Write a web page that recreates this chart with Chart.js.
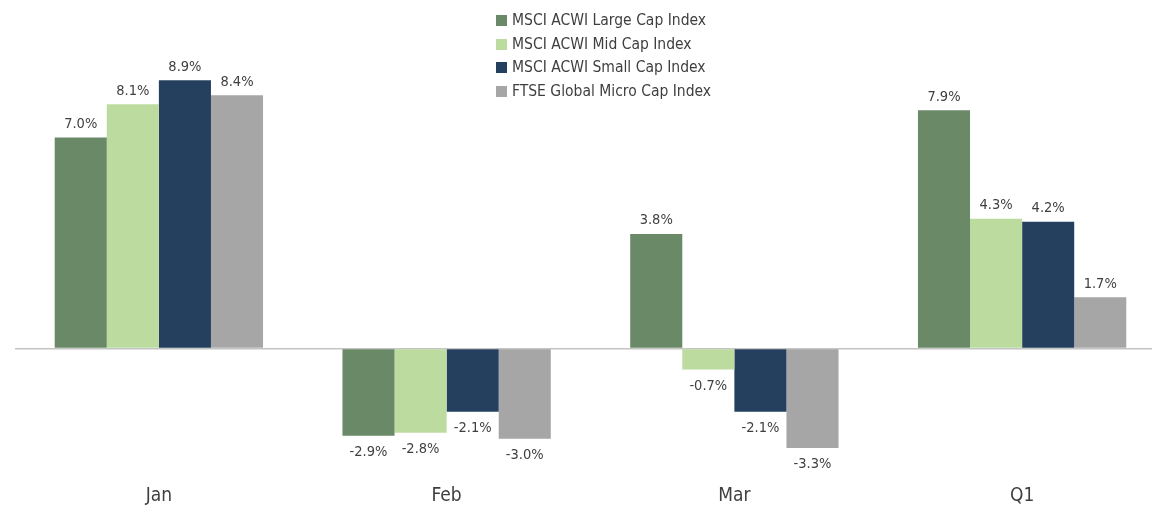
<!DOCTYPE html>
<html>
<head>
<meta charset="utf-8">
<script src="https://cdn.jsdelivr.net/npm/chart.js@4.4.1/dist/chart.umd.min.js"></script>
<style>
  html, body { margin: 0; padding: 0; background: #fff; overflow: hidden; }
  /* the plot runs a little past the right edge, as in the original */
  #wrap { position: relative; width: 1166px; height: 506px; }
  #legend { position: absolute; left: 496px; top: 9px; font-family: "DejaVu Sans Condensed", sans-serif; font-size: 15.5px; color: #3f3f3f; }
  #legend div { height: 23.7px; line-height: 23.7px; white-space: nowrap; }
  #legend span { display: inline-block; width: 11px; height: 11px; margin-right: 5px; vertical-align: -1px; }
</style>
</head>
<body>
<div id="wrap">
  <canvas id="myChart"></canvas>
  <div id="legend"></div>
</div>
<script>
const categories = ['Jan', 'Feb', 'Mar', 'Q1'];
const seriesNames = ['MSCI ACWI Large Cap Index', 'MSCI ACWI Mid Cap Index', 'MSCI ACWI Small Cap Index', 'FTSE Global Micro Cap Index'];
const largeCap = [7.0, -2.9, 3.8, 7.9];
const midCap = [8.1, -2.8, -0.7, 4.3];
const smallCap = [8.9, -2.1, -2.1, 4.2];
const microCap = [8.4, -3.0, -3.3, 1.7];
const colors = ['#6a8a67', '#bcdc9f', '#253f5f', '#a6a6a6'];

const FONT = '"DejaVu Sans Condensed", sans-serif';

// value labels above / below each bar
const barLabels = {
  id: 'barLabels',
  afterDatasetsDraw(chart) {
    const ctx = chart.ctx;
    ctx.save();
    ctx.font = '14.5px ' + FONT;
    ctx.fillStyle = '#3f3f3f';
    ctx.textAlign = 'center';
    chart.data.datasets.forEach((ds, i) => {
      chart.getDatasetMeta(i).data.forEach((bar, j) => {
        const v = ds.data[j];
        if (v >= 0) {
          ctx.textBaseline = 'bottom';
          ctx.fillText(v.toFixed(1) + '%', bar.x, bar.y - 6);
        } else {
          ctx.textBaseline = 'top';
          ctx.fillText(v.toFixed(1) + '%', bar.x, bar.y + 9);
        }
      });
    });
    ctx.restore();
  }
};

const ctx = document.getElementById('myChart').getContext('2d');
const myChart = new Chart(ctx, {
  type: 'bar',
  data: {
    labels: categories,
    datasets: [largeCap, midCap, smallCap, microCap].map((d, i) => ({
      label: seriesNames[i],
      data: d,
      backgroundColor: colors[i],
      borderWidth: 0
    }))
  },
  options: {
    responsive: true,
    maintainAspectRatio: false,
    animation: false,
    categoryPercentage: 0.724,
    barPercentage: 1,
    layout: { padding: { top: 47, left: 15, right: 0, bottom: 0 } },
    plugins: {
      legend: { display: false },
      tooltip: { enabled: false }
    },
    scales: {
      x: {
        grid: { display: false, drawTicks: false },
        border: { display: false },
        ticks: { color: '#3f3f3f', padding: 15, font: { family: FONT, size: 19, lineHeight: 1 } },
        afterFit: scale => { scale.height = 34; }
      },
      y: {
        min: -4.1,
        max: 10,
        ticks: { display: false, stepSize: 1 },
        border: { display: false },
        grid: {
          drawTicks: false,
          lineWidth: 1.5,
          color: c => c.tick.value === 0 ? '#c4c4c4' : 'transparent'
        }
      }
    }
  },
  plugins: [barLabels]
});

// legend built from the datasets
document.getElementById('legend').innerHTML = myChart.data.datasets
  .map(ds => `<div><span style="background:${ds.backgroundColor}"></span>${ds.label}</div>`)
  .join('');
</script>
</body>
</html>
